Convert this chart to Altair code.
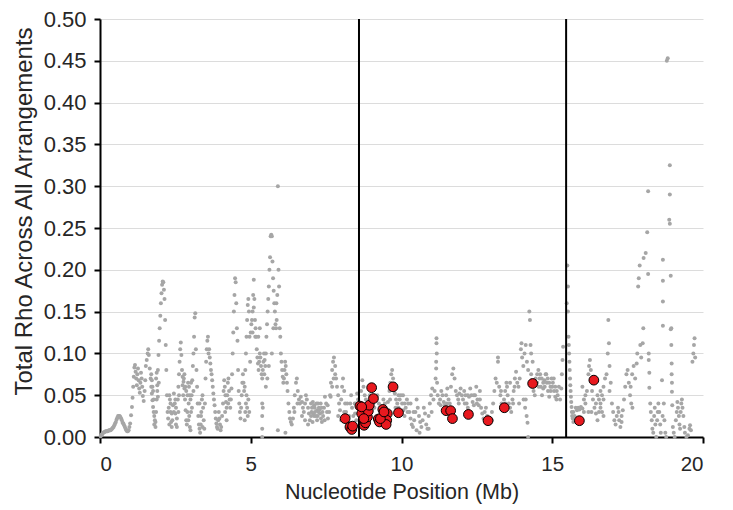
import altair as alt
import pandas as pd

# ---------------- data (Mb, total rho) ----------------
seg_a_x = [0.02,0.06,0.1,0.15,0.2,0.25,0.3,0.35,0.4,0.45,0.5,0.55,0.6,0.65,0.7,0.75,0.8,0.85,0.9,0.95,1.0,
           1.03,1.06,1.08,1.1,1.12,1.14,1.16,1.18,1.2,1.22,1.24,1.26,1.28,1.3,1.32,1.34,1.36,1.38,1.4,1.42,1.45,1.48,
           1.5,1.52,1.55,1.58,1.6,1.62,1.65,1.68,1.7,1.72,1.74,1.76,1.78,1.8,1.82,1.84,1.86,1.88,1.9,1.92,1.94,1.96,1.98,
           2.0,2.02,2.04,2.06,2.08,2.1,2.12,2.14,2.16,2.18,2.2,2.22,2.24,
           1.7,1.72,1.74,1.76,1.78,1.8,1.84,1.86,1.88,1.9,1.92,1.95]
seg_a_y = [0.001,0.003,0.005,0.006,0.007,0.007,0.008,0.008,0.01,0.012,0.016,0.021,0.025,0.025,0.022,0.017,0.014,0.01,0.007,0.008,0.016,
           0.026,0.036,0.047,0.06,0.072,0.083,0.086,0.078,0.07,0.062,0.075,0.082,0.068,0.058,0.053,0.065,0.077,0.07,0.06,0.049,0.043,0.055,
           0.068,0.085,0.092,0.1,0.105,0.098,0.082,0.07,0.06,0.052,0.044,0.036,0.03,0.025,0.02,0.018,0.03,0.045,0.062,0.08,0.098,0.115,0.13,
           0.145,0.16,0.172,0.182,0.186,0.185,0.176,0.165,0.14,0.11,0.08,0.05,0.03,
           0.075,0.068,0.06,0.055,0.045,0.015,0.012,0.07,0.077,0.055,0.048,0.065]

seg_b_x = [2.26,2.28,2.3,2.32,2.34,2.36,2.38,2.4,2.42,2.45,2.48,2.5,2.52,2.55,2.58,2.6,2.62,2.64,2.66,2.68,2.7,2.72,2.74,2.76,2.78,
           2.8,2.82,2.84,2.86,2.88,2.9,2.92,2.94,2.96,2.98,3.0,3.02,3.04,3.06,3.08,3.1,3.12,3.14,3.16,3.18,3.2,3.22,3.24,3.26,3.28,
           3.3,3.32,3.34,3.36,3.38,3.4,3.42,3.44,3.46,3.48,3.5,3.52,3.54,3.56,3.58,3.6,
           2.3,2.34,2.38,2.74,2.77,2.8,2.83,2.86,2.9,2.93,3.3,3.35,3.4]
seg_b_y = [0.022,0.035,0.05,0.045,0.03,0.018,0.012,0.02,0.038,0.052,0.04,0.028,0.015,0.022,0.045,0.06,0.075,0.09,0.105,0.113,0.098,0.08,0.062,0.05,0.07,
           0.058,0.045,0.032,0.02,0.015,0.05,0.065,0.04,0.025,0.012,0.008,0.03,0.05,0.068,0.085,0.1,0.12,0.143,0.148,0.105,0.08,0.06,0.04,0.025,0.015,
           0.01,0.005,0.015,0.03,0.045,0.05,0.035,0.02,0.01,0.04,0.07,0.09,0.105,0.115,0.12,0.1,
           0.015,0.04,0.028,0.072,0.066,0.075,0.06,0.055,0.03,0.02,0.04,0.025,0.012]

seg_c_x = [3.62,3.64,3.66,3.68,3.7,3.72,3.74,3.76,3.78,3.8,3.82,3.84,3.86,3.88,3.9,3.92,3.94,3.96,3.98,4.0,4.02,4.05,4.08,4.1,4.12,
           4.14,4.16,4.18,4.2,4.22,4.24,4.26,4.28,4.3,4.32,4.34,4.36,4.38,4.4,4.42,4.44,4.46,4.48,4.5,4.52,4.54,4.56,4.58,4.6,4.62,
           4.64,4.66,4.68,4.7,4.72,4.74,4.76,4.78,4.8,4.82,4.84,4.86,4.88,4.9,4.92,4.94,4.96,4.98,
           4.8,4.82,4.84,4.86,4.88,4.9,4.92,4.95,4.15,4.2,4.25]
seg_c_y = [0.105,0.095,0.088,0.08,0.075,0.068,0.06,0.052,0.045,0.038,0.03,0.022,0.016,0.012,0.01,0.02,0.03,0.022,0.015,0.008,0.012,0.025,0.04,0.055,0.068,
           0.06,0.05,0.042,0.035,0.05,0.065,0.07,0.055,0.045,0.035,0.045,0.058,0.075,0.1,0.125,0.15,0.17,0.19,0.185,0.16,0.13,0.115,0.08,0.055,0.04,
           0.03,0.022,0.035,0.05,0.065,0.075,0.065,0.055,0.06,0.08,0.1,0.12,0.14,0.158,0.165,0.15,0.12,0.09,
           0.02,0.03,0.04,0.05,0.035,0.025,0.045,0.03,0.03,0.02,0.04]

seg_d_x = [5.0,5.02,5.04,5.06,5.08,5.1,5.12,5.14,5.16,5.18,5.2,5.22,5.24,5.26,5.28,5.3,5.32,5.34,5.36,5.38,5.4,5.42,5.44,5.46,5.48,
           5.5,5.52,5.54,5.56,5.58,5.6,5.62,5.64,5.66,5.68,5.7,5.72,5.74,5.76,5.78,5.8,5.82,5.84,5.86,5.88,5.9,5.92,5.94,5.96,5.98,
           6.0,6.02,6.04,6.06,6.08,6.1,6.12,6.14,6.16,6.18,6.2,
           5.38,5.38,5.38,5.38,5.4,5.9,6.15,5.55,5.6,5.7,5.75,5.85,5.5,5.45,5.25,5.3,5.15,5.06,5.1]
seg_d_y = [0.125,0.135,0.14,0.15,0.17,0.188,0.165,0.14,0.13,0.12,0.105,0.095,0.088,0.08,0.09,0.1,0.095,0.085,0.075,0.07,0.08,0.09,0.1,0.092,0.085,
           0.1,0.12,0.135,0.15,0.165,0.18,0.2,0.215,0.24,0.242,0.24,0.21,0.19,0.175,0.16,0.15,0.135,0.13,0.14,0.17,0.3,0.2,0.18,0.13,0.12,
           0.1,0.09,0.08,0.072,0.065,0.07,0.08,0.09,0.085,0.075,0.065,
           0.04,0.025,0.01,0.0,0.035,0.008,0.005,0.07,0.085,0.1,0.13,0.16,0.06,0.075,0.12,0.13,0.12,0.125,0.155]

seg_e_x = [6.22,6.25,6.28,6.3,6.33,6.36,6.4,6.43,6.46,6.5,6.53,6.56,6.6,6.63,6.66,6.7,6.73,6.76,6.8,6.83,6.86,6.9,6.93,6.96,
           7.0,7.03,7.06,7.1,7.13,7.16,7.2,7.23,7.26,7.3,7.33,7.36,7.4,7.43,7.46,7.5,7.53,7.56,7.6,7.63,7.66,7.7,7.73,7.76,
           7.8,7.83,7.86,7.9,7.93,7.96,8.0,8.03,8.06,8.1,8.13,8.16,8.2,8.23,8.26,8.3,8.33,8.36,8.4,8.43,8.46,8.5,8.53,8.56,
           6.45,6.55,6.7,6.8,6.9,7.0,7.05,7.1,7.2,7.25,7.35,7.45,7.55,7.65,7.7,7.75,7.8,7.9,8.0,8.1,8.2,8.3,8.45,8.5]
seg_e_y = [0.055,0.04,0.03,0.022,0.018,0.015,0.022,0.035,0.05,0.065,0.07,0.055,0.045,0.04,0.048,0.042,0.035,0.03,0.04,0.05,0.045,0.035,0.028,0.02,
           0.025,0.035,0.042,0.038,0.03,0.025,0.032,0.04,0.035,0.028,0.022,0.018,0.025,0.035,0.048,0.04,0.03,0.022,0.03,0.05,0.065,0.08,0.09,0.095,
           0.085,0.07,0.06,0.05,0.04,0.032,0.045,0.06,0.07,0.055,0.04,0.03,0.022,0.018,0.025,0.04,0.05,0.035,0.025,0.015,0.028,0.04,0.052,0.045,
           0.03,0.04,0.025,0.02,0.015,0.04,0.018,0.025,0.02,0.03,0.035,0.02,0.038,0.048,0.06,0.07,0.075,0.025,0.02,0.03,0.04,0.015,0.04,0.02]

seg_f_x = [8.62,8.66,8.7,8.74,8.78,8.82,8.86,8.9,8.95,9.0,9.05,9.1,9.15,9.2,9.25,9.3,9.35,9.4,9.45,9.5,9.55,9.6,9.63,9.66,9.69,
           9.72,9.75,9.78,9.82,9.86,9.9,9.94,9.98,10.02,10.06,10.1,10.14,10.18]
seg_f_y = [0.04,0.055,0.068,0.06,0.05,0.045,0.035,0.04,0.05,0.045,0.04,0.035,0.045,0.05,0.04,0.03,0.035,0.045,0.04,0.03,0.042,0.055,0.065,0.075,0.08,
           0.07,0.06,0.052,0.045,0.04,0.035,0.045,0.05,0.04,0.032,0.025,0.035,0.045]

seg_g_x = [10.22,10.26,10.3,10.34,10.38,10.42,10.46,10.5,10.54,10.58,10.62,10.66,10.7,10.74,10.78,10.82,10.86,10.9,10.94,10.98,
           11.02,11.06,11.1,11.13,11.15,11.15,11.16,11.16,11.17,11.18,11.2,11.24,11.28,11.32,11.36,11.4,11.44,11.48,11.52,11.56,
           11.6,11.64,11.68,11.72,11.76,11.8,11.84,11.88,11.92,11.96,12.0,
           10.5,10.6,10.9,11.0,11.3,11.5,11.9]
seg_g_y = [0.04,0.03,0.022,0.015,0.012,0.02,0.03,0.045,0.035,0.025,0.018,0.012,0.02,0.035,0.028,0.015,0.01,0.025,0.04,0.05,
           0.058,0.045,0.055,0.07,0.082,0.09,0.112,0.118,0.1,0.065,0.05,0.04,0.045,0.055,0.05,0.042,0.038,0.05,0.058,0.045,
           0.04,0.06,0.075,0.082,0.07,0.055,0.05,0.045,0.052,0.058,0.05,
           0.008,0.005,0.01,0.03,0.038,0.04,0.04]

seg_h_x = [12.04,12.08,12.12,12.16,12.2,12.24,12.28,12.32,12.36,12.4,12.44,12.48,12.52,12.56,12.6,12.64,12.68,12.72,12.76,12.8,
           12.84,12.88,12.92,12.96,13.0,13.04,13.08,13.12,13.16,13.2,13.2,13.24,13.28,13.32,13.36,13.4,13.44,13.48,13.52,13.56,
           13.6,13.64,13.68,13.72,13.76,13.8,13.84,13.88,13.92,13.96,13.98,14.0,14.04,14.08,14.12,14.16,14.2,14.24,14.26,14.3,
           14.34,14.38,14.42,14.46,14.5,14.54,14.58,14.62,14.66,14.7,14.74,14.78,14.82,14.86,14.9,14.94,14.98,15.02,15.06,15.1,
           15.14,15.18,15.22,15.26,15.3,15.32,15.34,15.36,
           14.1,14.15,14.18,14.2,14.05,13.9,14.12,13.6,13.0,12.3,14.3,14.35,14.28]
seg_h_y = [0.045,0.055,0.05,0.04,0.035,0.048,0.058,0.05,0.042,0.038,0.05,0.06,0.045,0.038,0.045,0.035,0.028,0.022,0.03,0.035,
           0.025,0.02,0.018,0.022,0.03,0.04,0.055,0.07,0.065,0.09,0.095,0.06,0.05,0.04,0.035,0.045,0.055,0.065,0.05,0.04,
           0.035,0.03,0.045,0.055,0.07,0.078,0.065,0.06,0.07,0.105,0.112,0.095,0.085,0.1,0.11,0.09,0.08,0.15,0.14,0.075,
           0.065,0.055,0.05,0.062,0.075,0.08,0.07,0.06,0.05,0.058,0.068,0.075,0.065,0.055,0.048,0.06,0.07,0.065,0.055,0.048,
           0.045,0.05,0.06,0.045,0.058,0.075,0.092,0.108,
           0.035,0.025,0.017,0.0,0.045,0.04,0.045,0.065,0.02,0.03,0.1,0.09,0.11]

seg_i_x = [15.48,15.5,15.52,15.52,15.54,15.55,15.56,15.57,15.58,15.59,15.6,15.61,15.62,15.63,15.64,15.65,15.66,15.68,15.7,15.74,
           15.78,15.82,15.86,15.9,15.95,16.0,16.05,16.1,16.15,16.2,16.22,16.25,16.28,16.3,16.32,16.35,16.4,16.45,16.5,16.55,
           16.6,16.65,16.7,16.75,16.8,16.84,16.86,16.88,16.9,16.94,16.98,17.02,17.06,17.1,17.14,17.18,17.22,17.26,17.3,17.34,
           17.38,17.42,17.46,17.5,17.54,17.58,17.62,17.66,
           16.0,16.1,16.4,16.5,16.6,16.7,16.3,16.2,16.9,17.2,17.3,15.7]
seg_i_y = [0.16,0.205,0.18,0.15,0.12,0.11,0.1,0.09,0.08,0.07,0.062,0.055,0.048,0.042,0.036,0.03,0.025,0.022,0.018,0.025,
           0.035,0.032,0.035,0.033,0.036,0.034,0.03,0.04,0.055,0.075,0.085,0.092,0.08,0.07,0.055,0.045,0.035,0.028,0.02,0.03,
           0.04,0.05,0.06,0.07,0.075,0.1,0.14,0.112,0.085,0.065,0.04,0.03,0.02,0.015,0.025,0.035,0.02,0.012,0.025,0.032,
           0.045,0.06,0.075,0.08,0.065,0.05,0.04,0.035,
           0.06,0.05,0.065,0.05,0.035,0.025,0.03,0.03,0.055,0.03,0.018,0.03]

seg_j_x = [17.6,17.65,17.7,17.75,17.8,17.82,17.85,17.87,17.9,17.92,17.95,18.0,18.02,18.03,18.1,18.15,18.18,18.18,18.2,18.2,
           18.22,18.22,18.25,18.27,18.3,18.32,18.35,18.38,18.4,18.42,18.45,18.48,18.5,18.52,18.55,18.58,18.6,18.64,18.66,18.67,
           18.67,18.67,18.67,18.7,18.72,18.75,18.78,18.8,18.83,18.9,18.9,18.88,18.9,18.93,18.93,18.95,18.95,18.96,18.96,18.97,
           18.97,18.98,19.0,19.03,19.06,19.1,19.13,19.15,19.17,19.2,19.22,19.24,19.26,19.28,19.3,19.32,19.35,19.38,19.4,19.45,
           19.5,19.55,19.57,19.6,19.65,19.68,19.7,19.72,19.74]
seg_j_y = [0.06,0.075,0.085,0.07,0.088,0.1,0.18,0.19,0.205,0.11,0.095,0.112,0.13,0.214,0.22,0.245,0.294,0.195,0.1,0.092,
           0.077,0.059,0.04,0.03,0.02,0.01,0.005,0.025,0.035,0.015,0.0,0.02,0.03,0.04,0.03,0.015,0.005,0.068,0.025,0.212,
           0.187,0.162,0.133,0.04,0.02,0.005,0.0,0.45,0.453,0.325,0.29,0.26,0.255,0.193,0.129,0.13,0.11,0.088,0.075,0.065,
           0.054,0.038,0.012,0.005,0.0,0.02,0.03,0.042,0.035,0.025,0.015,0.01,0.03,0.04,0.045,0.035,0.025,0.012,0.005,0.0,
           0.002,0.01,0.014,0.008,0.09,0.1,0.11,0.118,0.095]

# additional readings in the densest stretches
seg_k_x = [0.04,0.08,0.12,0.175,0.225,0.275,0.325,0.375,0.425,0.475,0.525,0.575,0.625,0.675,0.725,0.775,0.825,0.875,0.925,0.975,
           2.45,2.5,2.52,2.55,2.6,2.62,2.95,2.97,3.0,3.02,3.05,3.1,
           7.02,7.08,7.12,7.18,7.22,7.28,7.32,7.38,
           9.62,9.7,9.8,9.9,10.0,10.05,10.1,10.2,10.3,10.4,
           12.1,12.2,12.4,12.5,12.6,13.3,13.45,13.5,13.7,13.75,
           14.45,14.5,14.55,14.6,14.65,14.7,14.75,14.8,14.85,14.9,14.95,15.0,15.05,15.1,15.15,
           16.05,16.45,16.55,16.6,16.65,16.7]
seg_k_y = [0.002,0.004,0.0055,0.0065,0.007,0.0075,0.008,0.009,0.011,0.014,0.018,0.023,0.025,0.024,0.02,0.016,0.012,0.008,0.007,0.012,
           0.03,0.045,0.035,0.012,0.03,0.05,0.06,0.05,0.045,0.065,0.035,0.055,
           0.03,0.028,0.035,0.04,0.025,0.033,0.04,0.03,
           0.045,0.06,0.035,0.05,0.03,0.05,0.04,0.03,0.04,0.03,
           0.04,0.05,0.05,0.04,0.055,0.055,0.04,0.06,0.04,0.06,
           0.07,0.065,0.06,0.075,0.07,0.065,0.06,0.075,0.07,0.065,0.055,0.06,0.07,0.06,0.055,
           0.045,0.04,0.045,0.055,0.03,0.045]

red_x = [8.13,8.29,8.35,8.38,8.62,8.68,8.76,8.81,8.87,8.90,8.93,9.01,9.07,9.23,9.27,9.38,9.45,9.53,9.51,9.49,9.72,9.90,
         8.68,8.75,9.3,9.42,
         11.48,11.63,11.69,12.22,12.87,13.41,14.35,15.90,16.38]
red_y = [0.022,0.012,0.009,0.013,0.037,0.028,0.014,0.017,0.024,0.031,0.038,0.059,0.046,0.0215,0.018,0.033,0.029,0.028,0.020,0.015,0.060,0.029,
         0.036,0.022,0.022,0.03,
         0.0315,0.0315,0.022,0.027,0.0195,0.035,0.064,0.0195,0.068]

breakpoints = [8.59, 15.46]

# ---------------- build ----------------
gx = seg_a_x + seg_b_x + seg_c_x + seg_d_x + seg_e_x + seg_f_x + seg_g_x + seg_h_x + seg_i_x + seg_j_x + seg_k_x
gy = seg_a_y + seg_b_y + seg_c_y + seg_d_y + seg_e_y + seg_f_y + seg_g_y + seg_h_y + seg_i_y + seg_j_y + seg_k_y
gray_df = pd.DataFrame({"pos": gx, "rho": gy})
red_df = pd.DataFrame({"pos": red_x, "rho": red_y})
bp_df = pd.DataFrame({"pos": breakpoints, "top": [0.5, 0.5], "bot": [0.0, 0.0]})

FONT = "Liberation Sans"
xscale = alt.Scale(domain=[0, 20], nice=False, zero=False)
yscale = alt.Scale(domain=[0, 0.5], nice=False)

xaxis = alt.Axis(title="Nucleotide Position (Mb)", values=[0, 5, 10, 15, 20], grid=False,
                 labelFontSize=20.5, titleFontSize=21.5, labelPadding=11, titlePadding=7,
                 tickSize=6, tickColor="black", domainColor="black", domainWidth=2, tickWidth=2)
yaxis = alt.Axis(title="Total Rho Across All Arrangements",
                 values=[0, 0.05, 0.1, 0.15, 0.2, 0.25, 0.3, 0.35, 0.4, 0.45, 0.5], format=".2f",
                 grid=True, gridColor="#dcdcdc", gridWidth=1,
                 labelFontSize=22, titleFontSize=24, labelPadding=8,
                 titleX=-64, titleY=192,
                 tickSize=6, tickColor="black", domainColor="black", domainWidth=2, tickWidth=2)

gray = alt.Chart(gray_df).mark_circle(size=16, color="#a6a6a6", opacity=1).encode(
    x=alt.X("pos:Q", scale=xscale, axis=xaxis),
    y=alt.Y("rho:Q", scale=yscale, axis=yaxis),
)
rules = alt.Chart(bp_df).mark_rule(color="black", strokeWidth=2).encode(
    x="pos:Q", y="bot:Q", y2="top:Q"
)
red = alt.Chart(red_df).mark_point(size=95, filled=True, fill="#e8191f", stroke="black",
                                    strokeWidth=1, opacity=1).encode(
    x="pos:Q", y="rho:Q"
)

chart = alt.layer(gray, rules, red).properties(
    width=603, height=418,
    autosize=alt.AutoSizeParams(type="none"),
    padding={"left": 100, "top": 19, "right": 30, "bottom": 73},
    background="white",
).configure_view(stroke=None).configure_axis(
    labelFont=FONT, titleFont=FONT, labelColor="#262626", titleColor="#262626", titleFontWeight="normal"
)

chart.save("out.html", embed_options={"renderer": "svg", "actions": False})
